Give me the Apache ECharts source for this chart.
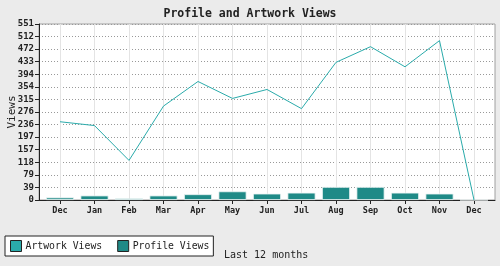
<!DOCTYPE html>
<html><head><meta charset="utf-8">
<script src="https://cdn.jsdelivr.net/npm/echarts@6/dist/echarts.min.js"></script>
<style>html,body{margin:0;padding:0;background:#ebebeb}#c{width:500px;height:266px}</style>
</head><body><div id="c"></div>
<script>
const categories = ['Dec','Jan','Feb','Mar','Apr','May','Jun','Jul','Aug','Sep','Oct','Nov','Dec'];
const artworkViews = [245, 233, 124, 294, 371, 318, 346, 286, 431, 480, 417, 499, 0];
const profileViews = [8, 14, 5, 14, 18, 27, 20, 23, 41, 41, 23, 20, 0];
const yMax = 551;
const yTickCount = 14;

const FONT = 'DejaVu Sans Mono';
const chart = echarts.init(document.getElementById('c'), null, {renderer: 'canvas'});
chart.setOption({
  backgroundColor: '#ebebeb',
  animation: false,
  title: {
    text: 'Profile and Artwork Views', left: 'center', top: 3,
    textStyle: {fontFamily: FONT, fontSize: 11.5, fontWeight: 'bold', color: '#222'}
  },
  legend: {
    left: 5, top: 236, orient: 'horizontal',
    backgroundColor: '#fff', borderColor: '#222', borderWidth: 1,
    padding: [4, 4, 4, 5], itemGap: 15, itemWidth: 11, itemHeight: 11,
    icon: 'rect',
    textStyle: {fontFamily: FONT, fontSize: 9.8, color: '#222', padding: [0, 0, 0, -1]},
    data: [
      {name: 'Artwork Views', itemStyle: {color: '#2aabab', borderColor: '#222', borderWidth: 1}},
      {name: 'Profile Views', itemStyle: {color: '#1f8a87', borderColor: '#222', borderWidth: 1}}
    ]
  },
  graphic: [{
    type: 'text', left: 224, top: 250,
    style: {text: 'Last 12 months', fontFamily: FONT, fontSize: 10, fill: '#222'}
  }],
  grid: [
    {left: 39, right: 5, top: 24, bottom: 66, show: true, backgroundColor: '#fff', borderColor: '#a0a0a0', borderWidth: 1, outerBoundsMode: 'none', containLabel: false},
    {left: 60, right: 26, top: 24, bottom: 66, outerBoundsMode: 'none', containLabel: false}
  ],
  xAxis: [
    {gridIndex: 0, type: 'value', min: 0, max: 1, axisLine: {show: true, lineStyle: {color: '#222', width: 1}},
     axisTick: {show: false}, axisLabel: {show: false}, splitLine: {show: false}},
    {gridIndex: 1, type: 'category', data: categories, boundaryGap: false,
     axisLine: {show: false},
     axisTick: {show: true, length: 4, lineStyle: {color: '#222'}},
     axisLabel: {fontFamily: FONT, fontSize: 8.5, fontWeight: 'bold', color: '#222', margin: 6, interval: 0},
     splitLine: {show: true, lineStyle: {color: '#e4e4e4', width: 1}}}
  ],
  yAxis: [
    {gridIndex: 0, type: 'value', min: 0, max: yMax, interval: yMax / yTickCount,
     name: 'Views', nameLocation: 'middle', nameGap: 21, nameRotate: 90, nameMoveOverlap: false,
     nameTextStyle: {fontFamily: FONT, fontSize: 11, color: '#222'},
     axisLine: {show: true, lineStyle: {color: '#222', width: 1}},
     axisTick: {show: true, length: 4, lineStyle: {color: '#222'}},
     axisLabel: {fontFamily: FONT, fontSize: 9, fontWeight: 'bold', color: '#222', margin: 5,
                 formatter: v => String(Math.round(v))},
     splitLine: {show: true, lineStyle: {color: '#999', type: [1, 2], width: 1}}},
    {gridIndex: 1, type: 'value', min: 0, max: yMax, show: false, splitLine: {show: false}}
  ],
  series: [
    {name: 'Profile Views', type: 'bar', xAxisIndex: 1, yAxisIndex: 1, data: profileViews,
     barWidth: 28, clip: false,
     itemStyle: {color: '#1f8a87', borderColor: '#eef5f5', borderWidth: 0.8}},
    {name: 'Artwork Views', type: 'line', xAxisIndex: 1, yAxisIndex: 1, data: artworkViews,
     symbol: 'none', clip: false, lineStyle: {color: '#2aabab', width: 1}, itemStyle: {color: '#2aabab'}}
  ]
});
</script></body></html>
